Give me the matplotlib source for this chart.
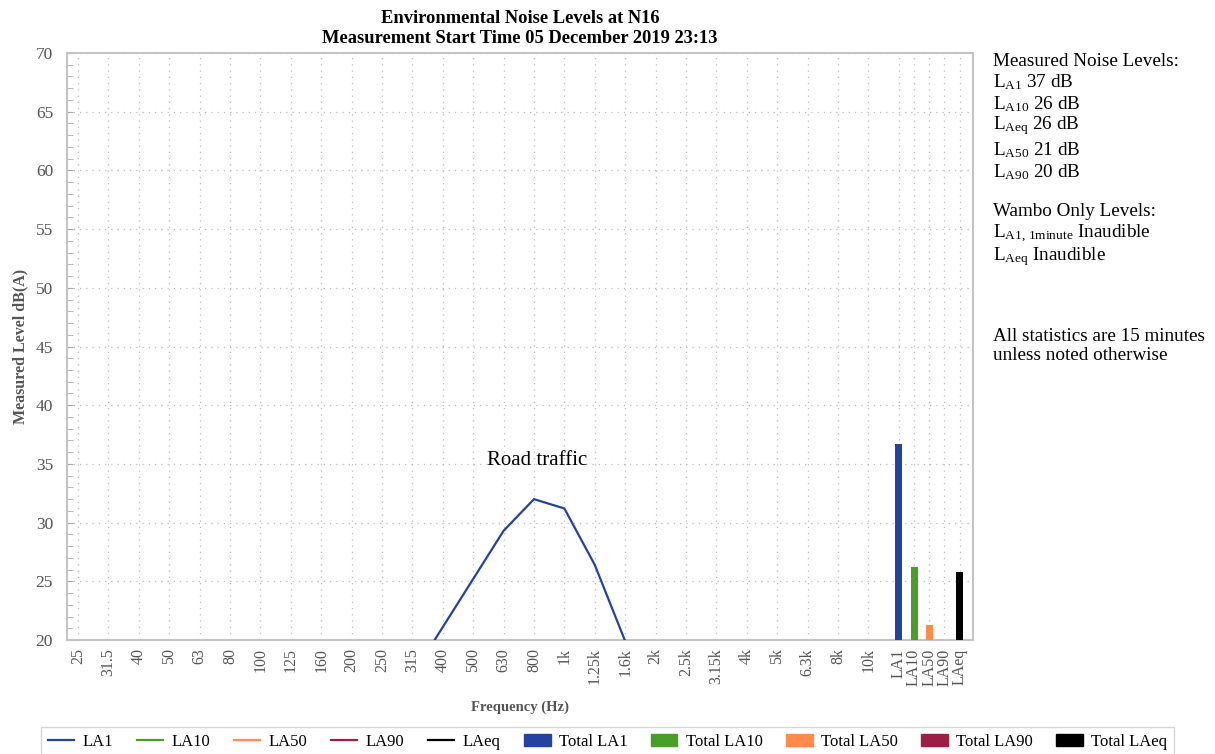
import matplotlib
matplotlib.use('Agg')
import matplotlib.pyplot as plt
import numpy as np
from matplotlib.lines import Line2D
from matplotlib.patches import Patch

# data
bands = ['25', '31.5', '40', '50', '63', '80', '100', '125', '160', '200', '250',
         '315', '400', '500', '630', '800', '1k', '1.25k', '1.6k', '2k', '2.5k',
         '3.15k', '4k', '5k', '6.3k', '8k', '10k']
la1_spectrum = [np.nan] * 11 + [17.0, 21.1, 25.2, 29.3, 32.0, 31.2, 26.4, 19.9] + [np.nan] * 8
total_names = ['LA1', 'LA10', 'LA50', 'LA90', 'LAeq']
total_values = [36.7, 26.2, 21.3, 20.0, 25.8]

line_colors = ['#2443a0', '#4a9e2a', '#ff8c4a', '#9e1f45', '#000000']
grey = '#555555'

plt.rcParams['font.family'] = ['Liberation Serif', 'DejaVu Serif']
plt.rcParams['mathtext.fontset'] = 'custom'
plt.rcParams['mathtext.rm'] = 'Liberation Serif'
plt.rcParams['mathtext.it'] = 'Liberation Serif:italic'

fig = plt.figure(figsize=(12.15, 7.54), dpi=100)
ax = fig.add_axes([67 / 1215, 1 - 640 / 754, 906 / 1215, 587 / 754])

x_bands = np.arange(len(bands))
x_totals = len(bands) + 0.5 * np.arange(len(total_names))

# spectrum line (only LA1 rises above the axis floor)
ax.plot(x_bands, la1_spectrum, color=line_colors[0], lw=1.6, zorder=3)

ax.bar(x_totals, total_values, width=0.23, color=line_colors, zorder=3)

ax.text(15.1, 35.3, 'Road traffic', ha='center', va='center', fontsize=15)

ax.set_xlim(-0.36, 29.44)
ax.set_ylim(20, 70)
ax.set_xticks(list(x_bands) + list(x_totals))
ax.set_xticklabels(bands + total_names, rotation=90, fontsize=11.5, color=grey)
ax.set_yticks(np.arange(20, 71, 5))
ax.set_yticks(np.arange(20, 71, 1), minor=True)
ax.tick_params(axis='y', which='both', direction='in', length=4, color='#aaaaaa',
               labelsize=12.5, labelcolor=grey, pad=10)
ax.tick_params(axis='x', length=0, pad=6)

ax.grid(True, which='major', linestyle=(0, (1, 4)), color='#bbbbbb', lw=0.9)
for s in ax.spines.values():
    s.set_color('#c4c4c4')
    s.set_linewidth(1.5)

ax.set_title('Environmental Noise Levels at N16\nMeasurement Start Time 05 December 2019 23:13',
             fontsize=13.3, fontweight='bold', pad=7, linespacing=1.22)
ax.set_xlabel('Frequency (Hz)', fontsize=10.5, fontweight='bold', color=grey)
ax.xaxis.set_label_coords(0.5, -(701 - 640) / 587)
ax.set_ylabel('Measured Level dB(A)', fontsize=11.5, fontweight='bold', color=grey)
ax.yaxis.set_label_coords(-(67 - 28) / 906, 0.5)

# side notes
notes = [
    (61, 'Measured Noise Levels:'),
    (82, r'L$_{\mathrm{A1}}$ 37 dB'),
    (104, r'L$_{\mathrm{A10}}$ 26 dB'),
    (126, r'L$_{\mathrm{Aeq}}$ 26 dB'),
    (150, r'L$_{\mathrm{A50}}$ 21 dB'),
    (172, r'L$_{\mathrm{A90}}$ 20 dB'),
    (212, 'Wambo Only Levels:'),
    (234, r'L$_{\mathrm{A1,\,1minute}}$ Inaudible'),
    (257, r'L$_{\mathrm{Aeq}}$ Inaudible'),
    (336, 'All statistics are 15 minutes'),
    (356, 'unless noted otherwise'),
]
for y, t in notes:
    fig.text(993 / 1215, 1 - y / 754, t, ha='left', va='center', fontsize=13.8)

handles = [Line2D([], [], color=c, lw=1.6) for c in line_colors]
handles += [Patch(color=c) for c in line_colors]
labels = total_names + ['Total ' + n for n in total_names]
fig.legend(handles, labels, loc='upper center', bbox_to_anchor=(0.5, 1 - 727 / 754),
           ncol=10, fontsize=12, frameon=True, edgecolor='#cccccc', fancybox=False,
           handlelength=1.6, handletextpad=0.5, columnspacing=1.4, borderpad=0.4,
           borderaxespad=0)

fig.savefig('out.png', dpi=100)
